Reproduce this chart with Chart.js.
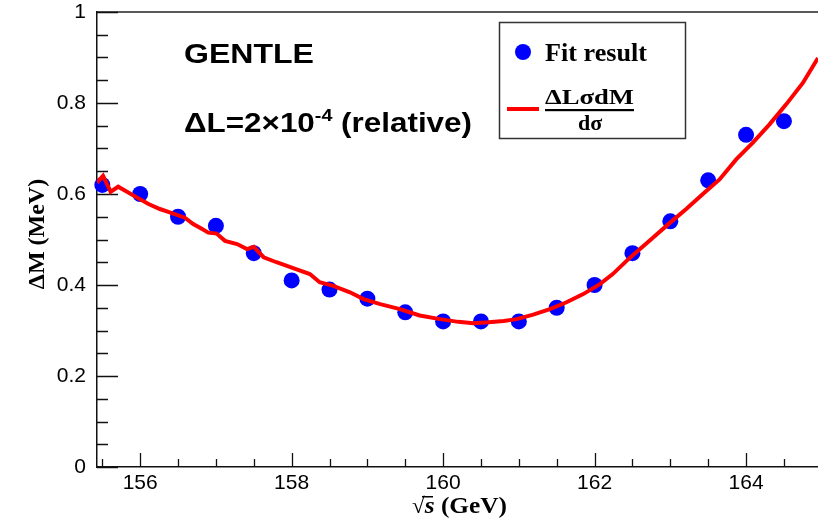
<!DOCTYPE html>
<html>
<head>
<meta charset="utf-8">
<script src="https://cdn.jsdelivr.net/npm/chart.js@4.4.1/dist/chart.umd.min.js"></script>
<style>
    html, body { margin: 0; padding: 0; background: #fff; }
</style>
</head>
<body>
<canvas id="chart" width="818" height="522"></canvas>
<script>
// Fit result points
const fitX = [155.5, 156, 156.5, 157, 157.5, 158, 158.5, 159, 159.5, 160, 160.5, 161, 161.5, 162, 162.5, 163, 163.5, 164, 164.5];
const fitY = [0.62, 0.60, 0.55, 0.53, 0.47, 0.41, 0.39, 0.37, 0.34, 0.32, 0.32, 0.32, 0.35, 0.40, 0.47, 0.54, 0.63, 0.73, 0.76];

// dL * sigma * dM / dsigma curve
const curveX = [155.43, 155.51, 155.61, 155.71, 155.96, 156.11, 156.26, 156.40, 156.59, 156.70, 156.79, 156.90, 157.01, 157.12, 157.28, 157.41, 157.50, 157.63, 157.80, 158.02, 158.24, 158.37, 158.55, 158.77, 158.95, 159.17, 159.43, 159.69, 159.96, 160.20, 160.40, 160.60, 160.80, 160.97, 161.19, 161.41, 161.63, 161.85, 162.07, 162.24, 162.46, 162.77, 162.99, 163.21, 163.43, 163.65, 163.87, 164.09, 164.31, 164.53, 164.75, 164.95];
const curveY = [0.625, 0.640, 0.605, 0.616, 0.592, 0.578, 0.567, 0.559, 0.548, 0.534, 0.526, 0.515, 0.513, 0.497, 0.490, 0.479, 0.484, 0.461, 0.450, 0.437, 0.424, 0.406, 0.398, 0.384, 0.369, 0.358, 0.347, 0.333, 0.325, 0.319, 0.316, 0.318, 0.321, 0.325, 0.335, 0.347, 0.362, 0.380, 0.402, 0.424, 0.459, 0.504, 0.536, 0.567, 0.600, 0.632, 0.676, 0.713, 0.753, 0.797, 0.844, 0.899];

// Axis ticks
const xTickLabels = [156, 158, 160, 162, 164];
const yTickLabels = [0, 0.2, 0.4, 0.6, 0.8, 1];
const xRange = [155.43, 164.95];
const yRange = [0, 1];

const SANS = '"Liberation Sans", Arial, Helvetica, sans-serif';
const SERIF = '"Liberation Serif", "Times New Roman", serif';

// draw a text stretched to a target width (ROOT fonts look wider here)
function drawStretched(ctx, parts, x, yBase, targetW) {
    let total = 0;
    parts.forEach(p => { ctx.font = p.font; p.w = ctx.measureText(p.text).width; total += p.w; });
    const sx = targetW ? targetW / total : 1;
    ctx.save();
    ctx.translate(x, yBase);
    ctx.scale(sx, 1);
    ctx.textAlign = 'left';
    ctx.textBaseline = 'alphabetic';
    let cx = 0;
    parts.forEach(p => {
        ctx.font = p.font;
        ctx.fillText(p.text, cx, p.dy || 0);
        cx += p.w;
    });
    ctx.restore();
    return sx;
}

// ROOT style frame: inner ticks, top frame line
const rootFrame = {
    id: 'rootFrame',
    beforeDatasetsDraw(chart) {
        const ctx = chart.ctx;
        const a = chart.chartArea;
        const xs = chart.scales.x, ys = chart.scales.y;
        ctx.save();
        ctx.strokeStyle = '#222';
        ctx.lineWidth = 1.5;
        ctx.beginPath();
        ctx.moveTo(a.left, a.top);
        ctx.lineTo(a.right, a.top);
        ctx.stroke();

        ctx.lineWidth = 1.3;
        ctx.strokeStyle = '#111';
        ctx.beginPath();
        // x ticks: minor every 0.5, major every 2
        for (let v = 155.5; v <= xRange[1]; v += 0.5) {
            const px = Math.round(xs.getPixelForValue(v)) + 0.5;
            const major = xTickLabels.includes(v);
            const len = major ? 14 : 8;
            ctx.moveTo(px, a.bottom);
            ctx.lineTo(px, a.bottom - len);
        }
        // y ticks: minor every 0.05, major every 0.2
        for (let i = 0; i <= 20; i++) {
            const v = i * 0.05;
            const py = Math.round(ys.getPixelForValue(v)) + 0.5;
            const len = (i % 4 === 0) ? 21 : 11;
            ctx.moveTo(a.left, py);
            ctx.lineTo(a.left + len, py);
        }
        ctx.stroke();
        ctx.restore();
    },
    afterDraw(chart) {
        const ctx = chart.ctx;
        ctx.save();
        ctx.fillStyle = '#000';

        // annotations
        drawStretched(ctx, [{ text: 'GENTLE', font: 'bold 27px ' + SANS }], 184, 63, 130);
        drawStretched(ctx, [
            { text: '\u0394L=2\u00d710', font: 'bold 27px ' + SANS },
            { text: '-4', font: 'bold 17px ' + SANS, dy: -11 },
            { text: ' (relative)', font: 'bold 27px ' + SANS }
        ], 184, 132, 288);

        // legend box
        ctx.strokeStyle = '#333';
        ctx.lineWidth = 1.5;
        ctx.fillStyle = '#fff';
        ctx.fillRect(499.5, 22.5, 186, 116);
        ctx.strokeRect(499.5, 22.5, 186, 116);

        ctx.fillStyle = '#0000ff';
        ctx.beginPath();
        ctx.arc(523, 52, 8, 0, Math.PI * 2);
        ctx.fill();

        ctx.fillStyle = '#000';
        drawStretched(ctx, [{ text: 'Fit result', font: 'bold 26px ' + SERIF }], 545, 61, 102);

        ctx.strokeStyle = '#ff0000';
        ctx.lineWidth = 4;
        ctx.beginPath();
        ctx.moveTo(507, 109);
        ctx.lineTo(539, 109);
        ctx.stroke();

        drawStretched(ctx, [{ text: '\u0394L\u03c3dM', font: 'bold 22px ' + SERIF }], 545, 104, 89);
        ctx.fillRect(545, 109, 89, 2.2);
        ctx.font = 'bold 22px ' + SERIF;
        ctx.textAlign = 'center';
        ctx.fillText('d\u03c3', 590, 130);

        // axis titles
        ctx.save();
        ctx.translate(44, 234);
        ctx.rotate(-Math.PI / 2);
        ctx.font = 'bold 24px ' + SERIF;
        ctx.textAlign = 'center';
        ctx.textBaseline = 'alphabetic';
        ctx.fillText('\u0394M (MeV)', 0, 0);
        ctx.restore();

        drawStretched(ctx, [
            { text: '\u221a', font: 'bold 22px ' + SERIF },
            { text: 's', font: 'bold italic 24px ' + SERIF },
            { text: ' (GeV)', font: 'bold 24px ' + SERIF }
        ], 412, 513, 95);
        // radical bar over s
        ctx.fillRect(422, 496, 11, 1.5);
        ctx.restore();
    }
};

const ctx = document.getElementById('chart');
new Chart(ctx, {
    type: 'scatter',
    data: {
        datasets: [{
            label: '\u0394L\u03c3dM/d\u03c3',
            type: 'line',
            data: curveX.map((x, i) => ({ x: x, y: curveY[i] })),
            borderColor: '#ff0000',
            borderWidth: 4,
            pointRadius: 0,
            tension: 0,
            fill: false,
            order: 0
        }, {
            label: 'Fit result',
            data: fitX.map((x, i) => ({ x: x, y: fitY[i] })),
            backgroundColor: '#0000ff',
            borderWidth: 0,
            pointRadius: 8,
            pointHoverRadius: 8,
            clip: 10,
            order: 1
        }]
    },
    options: {
        responsive: false,
        animation: false,
        layout: { autoPadding: false, padding: { top: 12, left: 0, right: 0, bottom: 0 } },
        plugins: {
            legend: { display: false },
            tooltip: { enabled: false }
        },
        scales: {
            x: {
                type: 'linear',
                min: xRange[0],
                max: xRange[1],
                afterFit(scale) {
                    scale.height = 55;
                    scale.paddingLeft = 0;
                    scale.paddingRight = 0;
                },
                afterBuildTicks(scale) { scale.ticks = xTickLabels.map(v => ({ value: v })); },
                grid: { display: false, drawTicks: false },
                border: { display: true, color: '#111', width: 1.5 },
                ticks: {
                    color: '#000',
                    font: { family: SANS, size: 21 },
                    padding: 4,
                    maxRotation: 0,
                    callback: v => String(v)
                }
            },
            y: {
                type: 'linear',
                min: yRange[0],
                max: yRange[1],
                afterFit(scale) {
                    scale.width = 97;
                    scale.paddingTop = 0;
                    scale.paddingBottom = 0;
                },
                afterBuildTicks(scale) { scale.ticks = yTickLabels.map(v => ({ value: v })); },
                grid: { display: false, drawTicks: false },
                border: { display: true, color: '#111', width: 1.5 },
                ticks: {
                    color: '#000',
                    font: { family: SANS, size: 21 },
                    padding: 11,
                    callback: v => String(v)
                }
            }
        }
    },
    plugins: [rootFrame]
});
</script>
</body>
</html>
